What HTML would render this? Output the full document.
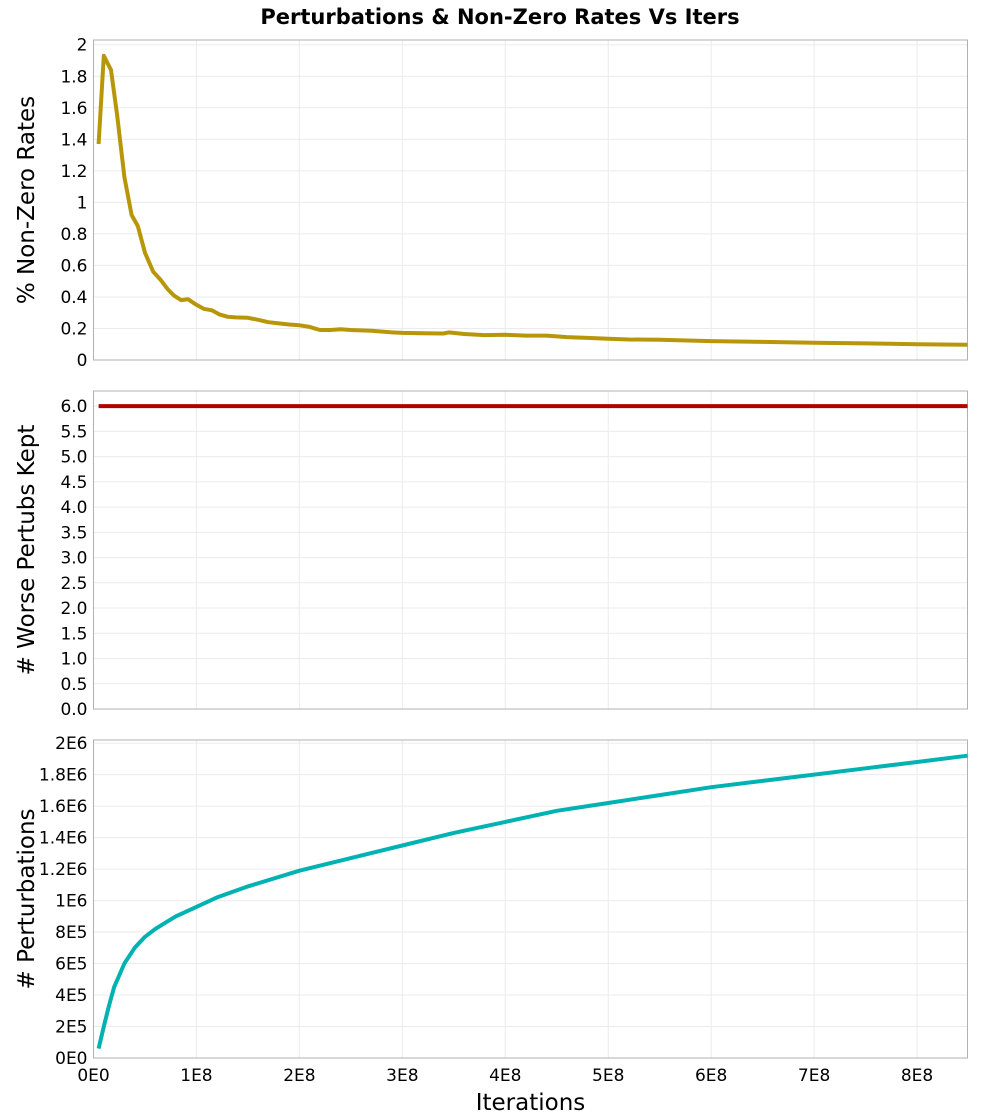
<!DOCTYPE html>
<html><head><meta charset="utf-8"><style>
body{margin:0;background:#fff}
svg{display:block;font-family:"DejaVu Sans","Liberation Sans",sans-serif}
</style></head><body>
<svg id="c" width="1000" height="1120">
<text x="500" y="24" text-anchor="middle" font-size="21" font-weight="bold">Perturbations &amp; Non-Zero Rates Vs Iters</text>
</svg>
<script>
const rateX=[0.05,0.1,0.17,0.23,0.3,0.37,0.43,0.5,0.58,0.65,0.72,0.78,0.85,0.92,1.0,1.07,1.15,1.22,1.3,1.38,1.5,1.6,1.7,1.8,1.9,2.0,2.1,2.2,2.3,2.4,2.5,2.7,2.9,3.0,3.2,3.4,3.45,3.6,3.8,4.0,4.2,4.4,4.6,4.8,5.0,5.2,5.5,6.0,6.5,7.0,7.5,8.0,8.49];
const rateY=[1.37,1.93,1.84,1.55,1.16,0.92,0.85,0.68,0.56,0.51,0.45,0.41,0.38,0.385,0.35,0.325,0.315,0.29,0.275,0.27,0.268,0.255,0.24,0.232,0.225,0.22,0.21,0.19,0.19,0.195,0.19,0.185,0.175,0.172,0.17,0.168,0.175,0.165,0.158,0.16,0.155,0.155,0.145,0.14,0.135,0.13,0.128,0.12,0.115,0.11,0.105,0.1,0.097];
const worseX=[0.05,8.49];
const worseY=[6.0,6.0];
const pertX=[0.05,0.1,0.15,0.2,0.3,0.4,0.5,0.6,0.7,0.8,1.0,1.2,1.5,2.0,2.5,3.0,3.5,4.0,4.5,5.0,5.5,6.0,6.5,7.0,7.5,8.0,8.49];
const pertY=[0.06,0.2,0.33,0.45,0.6,0.7,0.77,0.82,0.86,0.9,0.96,1.02,1.09,1.19,1.27,1.35,1.43,1.5,1.57,1.62,1.67,1.72,1.76,1.8,1.84,1.88,1.92];
const xTicks=[0,1,2,3,4,5,6,7,8];
const xTickLabels=["0E0","1E8","2E8","3E8","4E8","5E8","6E8","7E8","8E8"];
const rateTicks=[0,0.2,0.4,0.6,0.8,1,1.2,1.4,1.6,1.8,2];
const rateTickLabels=["0","0.2","0.4","0.6","0.8","1","1.2","1.4","1.6","1.8","2"];
const worseTicks=[0,0.5,1,1.5,2,2.5,3,3.5,4,4.5,5,5.5,6];
const worseTickLabels=["0.0","0.5","1.0","1.5","2.0","2.5","3.0","3.5","4.0","4.5","5.0","5.5","6.0"];
const pertTicks=[0,0.2,0.4,0.6,0.8,1,1.2,1.4,1.6,1.8,2];
const pertTickLabels=["0E0","2E5","4E5","6E5","8E5","1E6","1.2E6","1.4E6","1.6E6","1.8E6","2E6"];

const svg=document.getElementById('c');
const NS='http://www.w3.org/2000/svg';
function mk(t,a,p){const e=document.createElementNS(NS,t);for(const k in a)e.setAttribute(k,a[k]);(p||svg).appendChild(e);return e;}
const L=93.5,R=967.5,XMAX=8.49;
const sx=v=>L+(R-L)*v/XMAX;

function panel(name,top,bot,ymax,ticks,labels,title,xs,ys,color,showX){
  const g=mk('g',{});
  
  
  const sy=v=>bot-(bot-top)*v/ymax;
  xTicks.forEach(t=>{const l=mk('line',{x1:sx(t),x2:sx(t),y1:top,y2:bot,stroke:'#ebebeb','stroke-width':1},g);
    });
  ticks.forEach((t,i)=>{const l=mk('line',{x1:L,x2:R,y1:sy(t),y2:sy(t),stroke:'#ebebeb','stroke-width':1},g);
    
    const tx=mk('text',{x:L-6,y:sy(t)+6,'text-anchor':'end','font-size':17},g);tx.textContent=labels[i];
    });
  const fr=mk('rect',{x:L,y:top,width:R-L,height:bot-top,fill:'none',stroke:'#b0b0b0','stroke-width':1},g);
  
  const cx=34,cy=(top+bot)/2;
  const tt=mk('text',{x:cx,y:cy,'text-anchor':'middle','font-size':23,transform:`rotate(-90 ${cx} ${cy})`},g);
  tt.textContent=title;
  const d=xs.map((x,i)=>(i?'L':'M')+sx(x).toFixed(1)+' '+sy(ys[i]).toFixed(1)).join(' ');
  const p=mk('path',{d:d,fill:'none',stroke:color,'stroke-width':4,'stroke-linejoin':'round'},g);
  
  if(showX){
    xTicks.forEach((t,i)=>{const tx=mk('text',{x:sx(t),y:bot+23,'text-anchor':'middle','font-size':17},g);tx.textContent=xTickLabels[i];
      });
    const xt=mk('text',{x:(L+R)/2,y:bot+52,'text-anchor':'middle','font-size':23},g);xt.textContent='Iterations';
    
  }
}
panel('nonzero-rate',40,360,2.03,rateTicks,rateTickLabels,'% Non-Zero Rates',rateX,rateY,'#b8960a',false);
panel('worse-kept',391,709,6.3,worseTicks,worseTickLabels,'# Worse Pertubs Kept',worseX,worseY,'#b00000',false);
panel('perturbations',740,1058,2.02,pertTicks,pertTickLabels,'# Perturbations',pertX,pertY,'#00b2b2',true);
</script>
</body></html>
